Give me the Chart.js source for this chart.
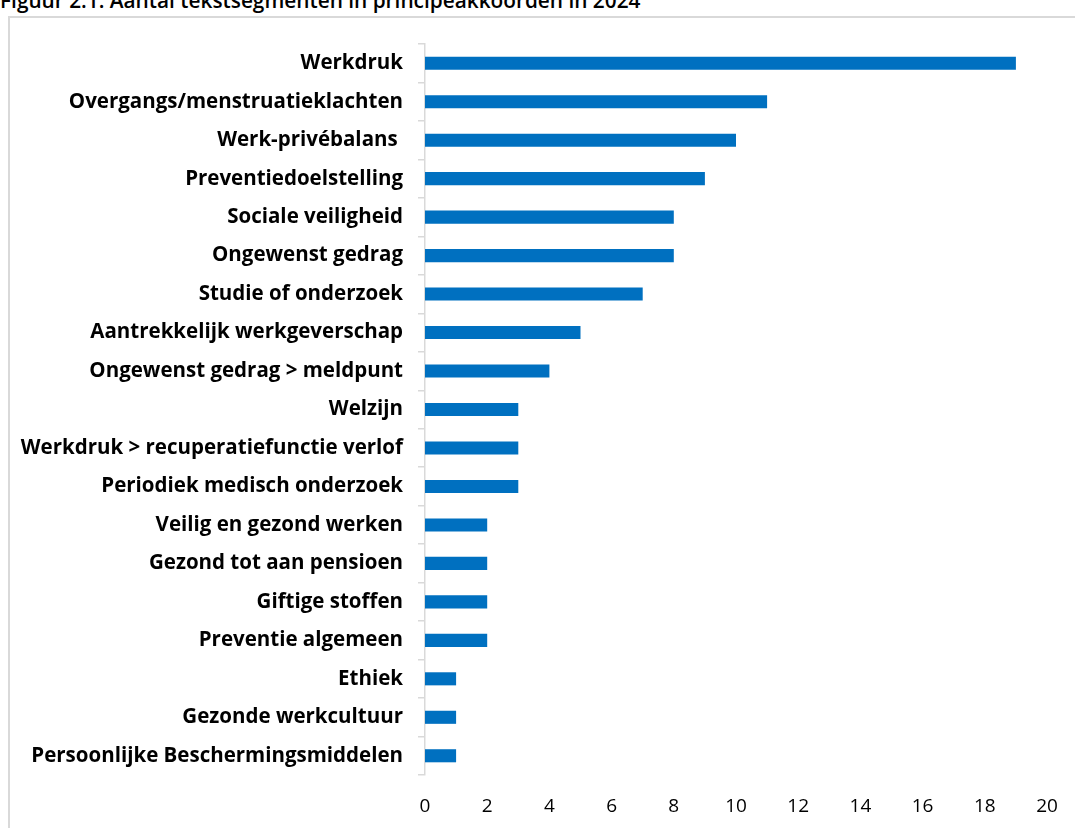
<!DOCTYPE html>
<html>
<head>
<meta charset="utf-8">
<script src="https://cdn.jsdelivr.net/npm/chart.js@4"></script>
<style>
  html, body { margin: 0; padding: 0; background: #fff; overflow: hidden; }
  #title { position: absolute; left: 0; top: -10px; font: 600 20.8px "Open Sans", sans-serif; color: #000; line-height: 20px; white-space: nowrap; }
  #frame { position: absolute; left: 8px; top: 16px; width: 1200px; height: 900px; border: 2px solid #d9d9d9; box-sizing: border-box; }
  #wrap { position: absolute; left: 0; top: 0; width: 1075px; height: 828px; }
</style>
</head>
<body>
<div id="title">Figuur 2.1: Aantal tekstsegmenten in principeakkoorden in 2024</div>
<div id="frame"></div>
<div id="wrap"><canvas id="chart"></canvas></div>
<script>
const categories = [
  "Werkdruk",
  "Overgangs/menstruatieklachten",
  "Werk-privébalans ",
  "Preventiedoelstelling",
  "Sociale veiligheid",
  "Ongewenst gedrag",
  "Studie of onderzoek",
  "Aantrekkelijk werkgeverschap",
  "Ongewenst gedrag > meldpunt",
  "Welzijn",
  "Werkdruk > recuperatiefunctie verlof",
  "Periodiek medisch onderzoek",
  "Veilig en gezond werken",
  "Gezond tot aan pensioen",
  "Giftige stoffen",
  "Preventie algemeen",
  "Ethiek",
  "Gezonde werkcultuur",
  "Persoonlijke Beschermingsmiddelen"
];
const counts = [19, 11, 10, 9, 8, 8, 7, 5, 4, 3, 3, 3, 2, 2, 2, 2, 1, 1, 1];
const xMin = 0, xMax = 20, xStep = 2;

const ctx = document.getElementById("chart").getContext("2d");
new Chart(ctx, {
  type: "bar",
  data: {
    labels: categories,
    datasets: [{
      data: counts,
      backgroundColor: "#0070C0",
      barPercentage: 0.34,
      categoryPercentage: 1
    }]
  },
  options: {
    indexAxis: "y",
    responsive: true,
    maintainAspectRatio: false,
    animation: false,
    layout: { padding: { top: 44, right: 28, left: 0, bottom: 0 } },
    plugins: { legend: { display: false }, tooltip: { enabled: false } },
    scales: {
      x: {
        min: xMin, max: xMax,
        ticks: { stepSize: xStep, color: "#000", padding: 20, font: { family: "Open Sans", size: 19 } },
        grid: { display: false, drawTicks: false },
        border: { display: false },
        afterFit: s => { s.height = 828 - 775; s.paddingLeft = 0; s.paddingRight = 0; }
      },
      y: {
        ticks: { color: "#000", padding: 15, font: { family: "Open Sans", size: 20.5, weight: "bold" } },
        grid: { offset: true, drawOnChartArea: false, tickLength: 7, color: "#d9d9d9", lineWidth: 1.5 },
        border: { color: "#d9d9d9", width: 1.5 },
        afterFit: s => { s.width = 425; s.paddingTop = 0; s.paddingBottom = 0; }
      }
    }
  }
});
</script>
</body>
</html>
